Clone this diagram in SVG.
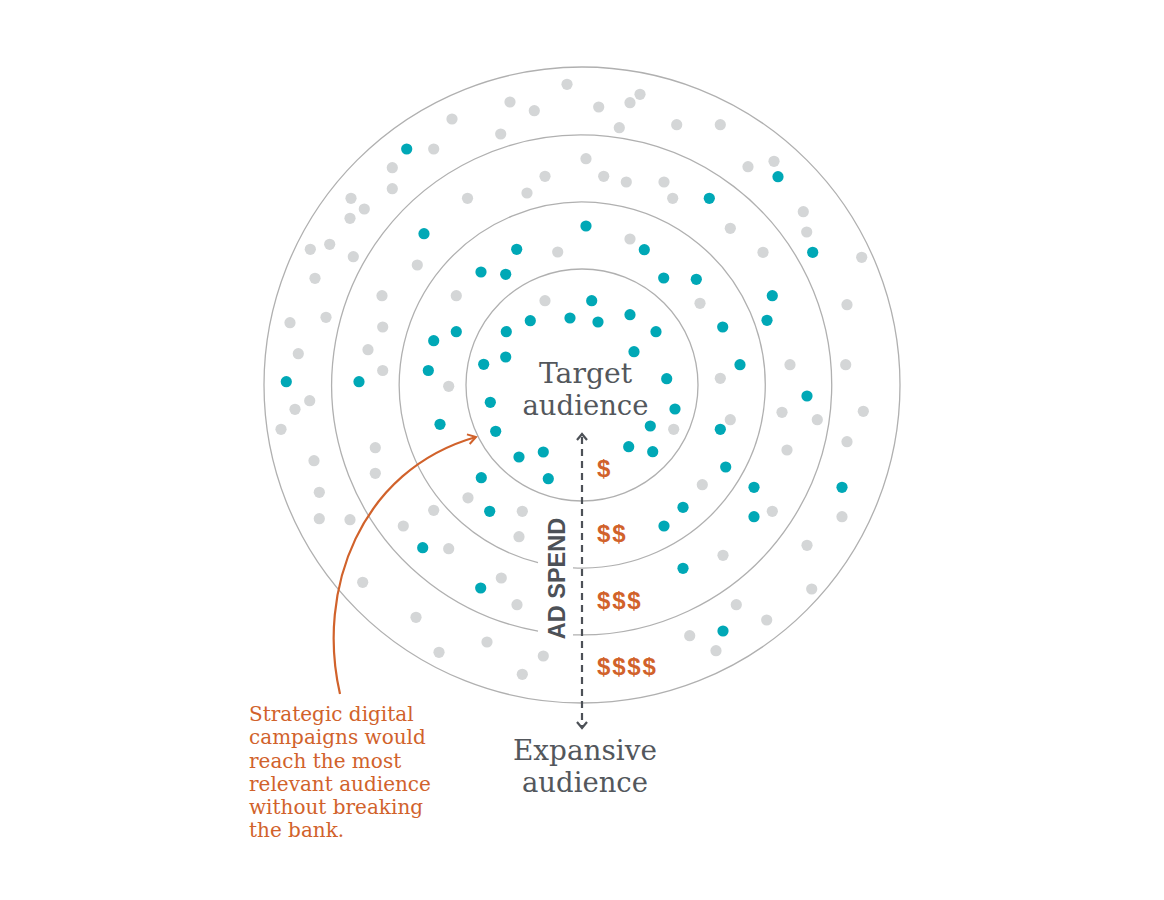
<svg xmlns="http://www.w3.org/2000/svg" width="1164" height="900" viewBox="0 0 1164 900">
<style>
.ring{fill:none;stroke:#b0b0b0;stroke-width:1.3}
.g{fill:#d4d6d7}
.t{fill:#00a8b6}
.lbl{font-family:"DejaVu Serif","Liberation Serif",serif;fill:#53575c;font-size:27px}
.cost{font-family:"Liberation Sans",Arial,sans-serif;font-weight:bold;font-size:24px;fill:#d1622b;letter-spacing:1.8px}
.note{font-family:"DejaVu Serif","Liberation Serif",serif;font-size:20px;fill:#d1622b}
.axis{stroke:#4d5157;stroke-width:2.2;fill:none}
</style>
<defs>
<marker id="orangeHead" viewBox="0 0 12 12" refX="10" refY="6" markerWidth="12" markerHeight="12" markerUnits="userSpaceOnUse" orient="auto">
<path d="M2,1 L10,6 L2,11" fill="none" stroke="#d1622b" stroke-width="2"/>
</marker>
</defs>
<rect width="1164" height="900" fill="#ffffff"/>
<g id="rings">
<circle class="ring" cx="582" cy="385" r="318"/>
<path class="ring" d="M573,634.8 A250,250 0 1 0 538,631.1"/>
<path class="ring" d="M573,567.8 A183,183 0 1 0 538,562.6"/>
<circle class="ring" cx="582" cy="385" r="116"/>
</g>
<g id="dots-gray" class="g">
<circle cx="452" cy="119" r="5.6"/><circle cx="433.7" cy="149" r="5.6"/><circle cx="392.3" cy="167.7" r="5.6"/><circle cx="392.3" cy="188.7" r="5.6"/><circle cx="467.5" cy="198.3" r="5.6"/><circle cx="351" cy="198.3" r="5.6"/><circle cx="364.3" cy="209" r="5.6"/><circle cx="350" cy="218.3" r="5.6"/><circle cx="310.3" cy="249.3" r="5.6"/><circle cx="329.7" cy="244.3" r="5.6"/><circle cx="353.3" cy="256.7" r="5.6"/><circle cx="417.3" cy="265" r="5.6"/><circle cx="315" cy="278.3" r="5.6"/><circle cx="382" cy="295.7" r="5.6"/><circle cx="456.3" cy="295.7" r="5.6"/><circle cx="290" cy="322.7" r="5.6"/><circle cx="326" cy="317.3" r="5.6"/><circle cx="382.7" cy="327" r="5.6"/><circle cx="368" cy="349.7" r="5.6"/><circle cx="298.3" cy="353.7" r="5.6"/><circle cx="382.7" cy="370.5" r="5.6"/><circle cx="448.7" cy="386.3" r="5.6"/>
<circle cx="567" cy="84.3" r="5.6"/><circle cx="510" cy="102" r="5.6"/><circle cx="534.3" cy="110.7" r="5.6"/><circle cx="598.7" cy="107" r="5.6"/><circle cx="630" cy="102.7" r="5.6"/><circle cx="640" cy="94.3" r="5.6"/><circle cx="619.3" cy="127.7" r="5.6"/><circle cx="500.7" cy="134" r="5.6"/><circle cx="586" cy="158.7" r="5.6"/><circle cx="545" cy="176.3" r="5.6"/><circle cx="603.7" cy="176.3" r="5.6"/><circle cx="626.3" cy="182" r="5.6"/><circle cx="664" cy="182" r="5.6"/><circle cx="527" cy="193" r="5.6"/><circle cx="672.7" cy="198.3" r="5.6"/><circle cx="630" cy="239" r="5.6"/><circle cx="557.7" cy="252" r="5.6"/><circle cx="545" cy="300.7" r="5.6"/>
<circle cx="676.7" cy="124.7" r="5.6"/><circle cx="720.3" cy="124.7" r="5.6"/><circle cx="748" cy="166.7" r="5.6"/><circle cx="774" cy="161.3" r="5.6"/><circle cx="803.3" cy="211.7" r="5.6"/><circle cx="806.7" cy="232" r="5.6"/><circle cx="730.3" cy="228.3" r="5.6"/><circle cx="763" cy="252.3" r="5.6"/><circle cx="861.7" cy="257.3" r="5.6"/><circle cx="700" cy="303.3" r="5.6"/><circle cx="847" cy="304.7" r="5.6"/><circle cx="790" cy="364.7" r="5.6"/><circle cx="845.7" cy="364.7" r="5.6"/><circle cx="720.3" cy="378.3" r="5.6"/>
<circle cx="309.7" cy="400.7" r="5.6"/><circle cx="295" cy="409.3" r="5.6"/><circle cx="281" cy="429.3" r="5.6"/><circle cx="375.3" cy="447.7" r="5.6"/><circle cx="314" cy="460.7" r="5.6"/><circle cx="375.3" cy="473.3" r="5.6"/><circle cx="468" cy="497.8" r="5.6"/><circle cx="319.3" cy="492.3" r="5.6"/><circle cx="433.7" cy="510.3" r="5.6"/><circle cx="319.3" cy="518.7" r="5.6"/><circle cx="350" cy="519.7" r="5.6"/><circle cx="403.3" cy="526" r="5.6"/><circle cx="448.7" cy="548.7" r="5.6"/><circle cx="362.7" cy="582.3" r="5.6"/><circle cx="416" cy="617.3" r="5.6"/><circle cx="439" cy="652.3" r="5.6"/>
<circle cx="673.7" cy="429.3" r="5.6"/><circle cx="522.3" cy="511.3" r="5.6"/><circle cx="519" cy="536.7" r="5.6"/><circle cx="501.3" cy="578" r="5.6"/><circle cx="517" cy="604.7" r="5.6"/><circle cx="487" cy="642" r="5.6"/><circle cx="543.3" cy="656" r="5.6"/><circle cx="522.3" cy="674.3" r="5.6"/>
<circle cx="782" cy="412.3" r="5.6"/><circle cx="863.3" cy="411.3" r="5.6"/><circle cx="817.3" cy="419.7" r="5.6"/><circle cx="730.3" cy="419.7" r="5.6"/><circle cx="787" cy="450" r="5.6"/><circle cx="847" cy="441.7" r="5.6"/><circle cx="702.3" cy="484.7" r="5.6"/><circle cx="772.3" cy="511.3" r="5.6"/><circle cx="842" cy="516.7" r="5.6"/><circle cx="807" cy="545.3" r="5.6"/><circle cx="723" cy="555.3" r="5.6"/><circle cx="811.7" cy="589" r="5.6"/><circle cx="736.3" cy="604.7" r="5.6"/><circle cx="766.7" cy="620" r="5.6"/><circle cx="689.7" cy="635.7" r="5.6"/><circle cx="716" cy="650.7" r="5.6"/>
</g>
<g id="dots-teal" class="t">
<circle cx="406.7" cy="149" r="5.6"/><circle cx="424" cy="233.7" r="5.6"/><circle cx="456.3" cy="331.7" r="5.6"/><circle cx="433.7" cy="340.7" r="5.6"/><circle cx="428.3" cy="370.5" r="5.6"/><circle cx="286.3" cy="381.7" r="5.6"/><circle cx="359" cy="381.7" r="5.6"/>
<circle cx="586" cy="226" r="5.6"/><circle cx="644.3" cy="249.7" r="5.6"/><circle cx="516.7" cy="249.3" r="5.6"/><circle cx="481" cy="272" r="5.6"/><circle cx="505.7" cy="274.3" r="5.6"/><circle cx="663.7" cy="278" r="5.6"/><circle cx="591.7" cy="300.7" r="5.6"/><circle cx="530.3" cy="320.7" r="5.6"/><circle cx="570" cy="318" r="5.6"/><circle cx="598" cy="322" r="5.6"/><circle cx="630" cy="314.7" r="5.6"/><circle cx="506.3" cy="331.7" r="5.6"/><circle cx="656" cy="331.7" r="5.6"/><circle cx="634" cy="351.7" r="5.6"/><circle cx="505.7" cy="357" r="5.6"/><circle cx="483.7" cy="364.3" r="5.6"/><circle cx="666.7" cy="378.7" r="5.6"/>
<circle cx="778" cy="176.7" r="5.6"/><circle cx="709.3" cy="198.3" r="5.6"/><circle cx="812.7" cy="252.3" r="5.6"/><circle cx="696.3" cy="279.3" r="5.6"/><circle cx="772.3" cy="295.7" r="5.6"/><circle cx="767" cy="320.3" r="5.6"/><circle cx="722.7" cy="327" r="5.6"/><circle cx="740" cy="364.7" r="5.6"/>
<circle cx="440" cy="424.3" r="5.6"/><circle cx="481.3" cy="477.7" r="5.6"/><circle cx="480.7" cy="588" r="5.6"/><circle cx="422.7" cy="547.7" r="5.6"/><circle cx="490.3" cy="402.3" r="5.6"/><circle cx="675" cy="409" r="5.6"/><circle cx="650.3" cy="426" r="5.6"/><circle cx="495.7" cy="431.3" r="5.6"/><circle cx="628.7" cy="446.7" r="5.6"/><circle cx="652.7" cy="451.7" r="5.6"/><circle cx="519" cy="457" r="5.6"/><circle cx="543.3" cy="452" r="5.6"/><circle cx="548.3" cy="478.7" r="5.6"/><circle cx="489.7" cy="511.3" r="5.6"/><circle cx="664" cy="526" r="5.6"/>
<circle cx="807" cy="396" r="5.6"/><circle cx="720.3" cy="429.3" r="5.6"/><circle cx="725.7" cy="467" r="5.6"/><circle cx="754" cy="487.3" r="5.6"/><circle cx="842" cy="487.3" r="5.6"/><circle cx="683" cy="507.3" r="5.6"/><circle cx="754" cy="516.7" r="5.6"/><circle cx="683" cy="568.3" r="5.6"/><circle cx="723" cy="631" r="5.6"/>
</g>
<g id="connectors">
<line class="axis" x1="582" y1="437" x2="582" y2="726" stroke-dasharray="7 5"/>
<polyline class="axis" points="577,440 582,434 587,440"/>
<polyline class="axis" points="577,722 582,728 587,722"/>
<path d="M340,694 C316,590 360,470 476,437" fill="none" stroke="#d1622b" stroke-width="2.2" marker-end="url(#orangeHead)"/>
</g>
<g id="target-label">
<text class="lbl" text-anchor="middle" x="585.5" y="383" textLength="93" lengthAdjust="spacingAndGlyphs">Target</text>
<text class="lbl" text-anchor="middle" x="585.5" y="415" textLength="126" lengthAdjust="spacingAndGlyphs">audience</text>
</g>
<g id="expansive-label">
<text class="lbl" text-anchor="middle" x="585" y="760" textLength="144" lengthAdjust="spacingAndGlyphs">Expansive</text>
<text class="lbl" text-anchor="middle" x="585" y="792" textLength="126" lengthAdjust="spacingAndGlyphs">audience</text>
</g>
<g id="ad-spend">
<text transform="translate(565,578.5) rotate(-90)" text-anchor="middle" font-family="Liberation Sans, Arial, sans-serif" font-weight="bold" font-size="23.5" fill="#4d5157">AD SPEND</text>
</g>
<g id="costs">
<text class="cost" x="597" y="477">$</text>
<text class="cost" x="597" y="542">$$</text>
<text class="cost" x="597" y="609">$$$</text>
<text class="cost" x="597" y="675">$$$$</text>
</g>
<g id="note">
<text class="note" x="249" y="721">Strategic digital</text>
<text class="note" x="249" y="744.3">campaigns would</text>
<text class="note" x="249" y="767.5">reach the most</text>
<text class="note" x="249" y="790.8">relevant audience</text>
<text class="note" x="249" y="814">without breaking</text>
<text class="note" x="249" y="837.3">the bank.</text>
</g>
</svg>
